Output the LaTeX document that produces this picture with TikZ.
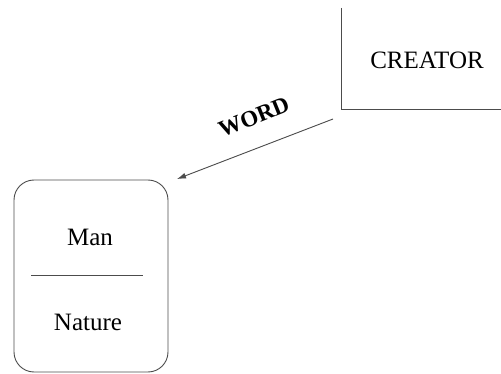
\documentclass[tikz,border=0pt]{standalone}
\usepackage{fontspec}
\setmainfont{Liberation Serif}
\usetikzlibrary{arrows.meta}
\begin{document}
\begin{tikzpicture}[x=1pt,y=-1pt,
  line/.style={draw=black!70,line width=0.9pt},
  lbl/.style={font=\rmfamily\fontsize{25}{30}\selectfont,inner sep=0pt},
  wordlbl/.style={font=\rmfamily\fontsize{23}{27}\selectfont\bfseries,inner sep=0pt}]
\useasboundingbox (0,0) rectangle (501,374);
% Creator open box
\coordinate (ctop) at (341,8);
\coordinate (ccorner) at (341,109);
\coordinate (cright) at (501,109);
\draw[line] (ctop) -- (ccorner) -- (cright);
\node[lbl] (creator) at (427,60) {CREATOR};
% Man / Nature box
\node[line,rounded corners=20pt,minimum width=154pt,minimum height=192pt,inner sep=0pt] (mnbox) at (91,276) {};
\node[lbl] (man) at (90,237) {Man};
\node[lbl] (nature) at (88,322) {Nature};
\coordinate (dl) at (31,275);
\coordinate (dr) at (143,275);
\draw[line] (dl) -- (dr);
% Word arrow
\coordinate (astart) at (333,119);
\coordinate (aend) at (177,179);
\draw[line,-{Latex[length=9pt,width=6pt]}] (astart) -- (aend);
\node[wordlbl,rotate=22] (word) at (254,117) {WORD};
\end{tikzpicture}
\end{document}
